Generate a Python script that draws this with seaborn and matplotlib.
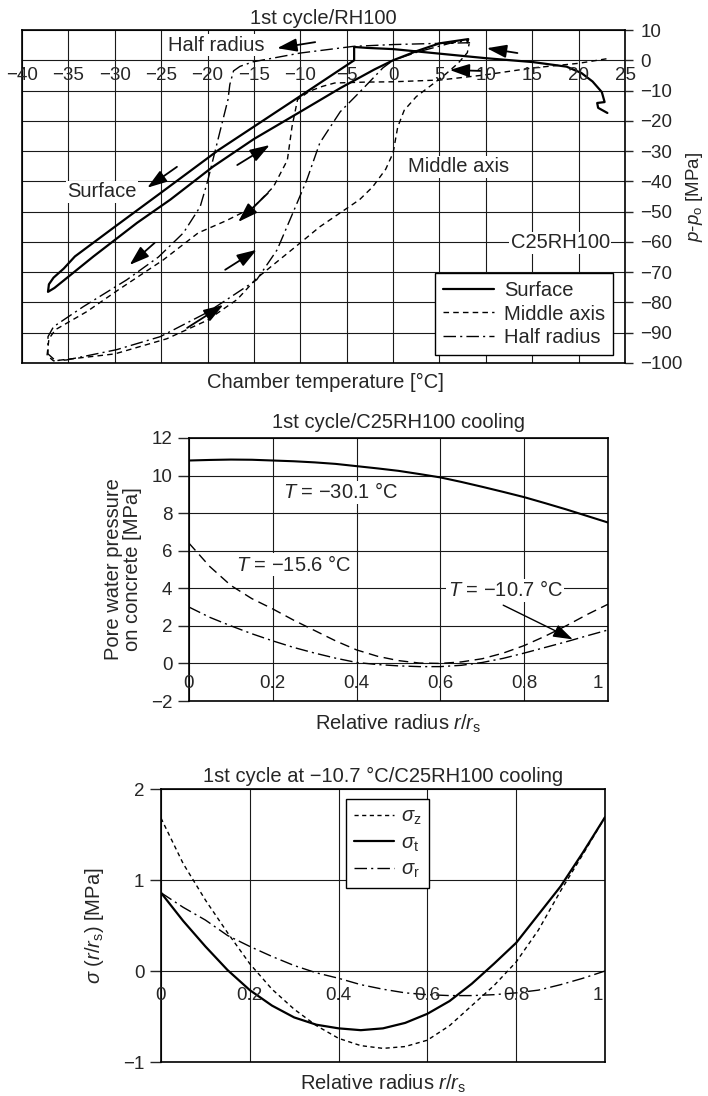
import matplotlib
matplotlib.use("Agg")
import matplotlib.pyplot as plt
import seaborn as sns

# Top panel: pore pressure hysteresis loops (cooling path followed by heating path)
surface_T = [23.1, 22.1, 22.0, 22.8, 22.5, 21.5, 20.3, 18.7, 15.1, 10.0, 5.0, 0.0, -2.8, -4.2, -4.2,
             -10.0, -18.8, -25.0, -30.0, -34.3, -35.5, -36.6, -37.1, -37.2,
             -36.5, -32.3, -27.6, -24.0, -19.4, -15.0, -10.0, -5.7, -2.0, 0.0, 2.5, 5.0, 8.1, 8.0]
surface_p = [-17.4, -15.7, -14.1, -13.8, -10.5, -7.0, -4.2, -2.1, -0.6, 0.7, 2.2, 3.7, 4.1, 4.4, 0.0,
             -11.8, -29.6, -43.7, -55.0, -64.8, -68.8, -71.8, -74.0, -76.5,
             -75.2, -64.8, -53.7, -46.0, -35.1, -26.0, -17.0, -9.2, -3.0, 0.0, 3.0, 5.6, 7.0, 5.9]

middle_T = [23.0, 20.0, 15.1, 9.7, 5.1, 0.0, -3.0, -6.3, -7.6, -9.0, -10.3, -10.9, -11.4, -12.9,
            -15.0, -18.0, -21.0, -24.8, -29.6, -33.0, -36.4, -37.1, -37.3,
            -36.6, -30.0, -24.4, -20.1, -16.8, -14.7, -10.0, -7.9, -3.6, -2.2, -0.8, 0.0, 0.5,
            1.2, 2.5, 4.0, 5.5, 7.0, 8.0, 8.2]
middle_p = [0.5, -1.0, -2.5, -4.9, -6.5, -7.1, -7.2, -7.5, -8.6, -10.2, -13.0, -22.0, -33.0, -41.8,
            -48.4, -53.0, -57.0, -66.0, -75.8, -83.0, -89.0, -92.0, -97.5,
            -99.3, -97.0, -92.0, -86.0, -79.0, -72.0, -60.3, -55.0, -46.0, -41.8, -36.0, -30.6, -22.0,
            -16.5, -12.0, -8.5, -5.0, -1.0, 2.5, 5.5]

half_T = [8.3, 5.0, 0.0, -4.3, -10.0, -15.1, -16.5, -17.2, -17.6, -17.8, -18.7, -20.0, -20.8, -22.6,
          -25.3, -28.7, -33.4, -36.6, -37.2, -37.2,
          -36.4, -35.2, -29.8, -25.1, -20.1, -17.9, -14.7, -12.5, -10.8, -9.3, -7.9, -5.7, -3.6,
          -1.1, 0.0, 2.6, 6.1, 8.1]
half_p = [5.8, 5.6, 5.2, 4.6, 2.4, -0.5, -2.0, -3.5, -8.0, -13.0, -24.0, -40.0, -48.4, -57.0,
          -65.0, -72.5, -81.4, -88.0, -91.3, -97.0,
          -99.2, -99.0, -95.6, -91.3, -83.4, -79.0, -72.5, -62.6, -50.4, -39.5, -27.3, -17.0, -10.5,
          -2.5, 0.0, 2.7, 5.6, 6.7]

temp_ticks = [-40, -35, -30, -25, -20, -15, -10, -5, 0, 5, 10, 15, 20, 25]
press_ticks = [10, 0, -10, -20, -30, -40, -50, -60, -70, -80, -90, -100]

# arrows in the top panel (tail -> head)
arrow_tail_T = [-8.4, 13.4, 9.4, -23.3, -16.8, -13.5, -25.7, -18.1, -22.2]
arrow_tail_p = [6.0, 2.4, -3.5, -35.2, -34.6, -43.9, -60.3, -69.2, -88.4]
arrow_head_T = [-12.5, 10.1, 6.1, -26.5, -13.3, -16.7, -28.4, -14.7, -18.3]
arrow_head_p = [4.0, 4.0, -3.2, -42.1, -28.0, -53.4, -67.6, -62.6, -80.8]

# Middle panel: pore water pressure profiles
radius = [0.0, 0.05, 0.1, 0.15, 0.2, 0.25, 0.3, 0.35, 0.4, 0.45, 0.5,
          0.55, 0.6, 0.65, 0.7, 0.75, 0.8, 0.85, 0.9, 0.95, 1.0]
pw_m30 = [10.8, 10.83, 10.85, 10.84, 10.8, 10.76, 10.7, 10.62, 10.5, 10.38, 10.25,
          10.08, 9.9, 9.66, 9.4, 9.13, 8.85, 8.53, 8.2, 7.85, 7.5]
pw_m15 = [6.4, 5.15, 4.15, 3.45, 2.9, 2.3, 1.75, 1.2, 0.72, 0.38, 0.15,
          0.02, 0.0, 0.08, 0.25, 0.55, 0.95, 1.45, 2.0, 2.6, 3.15]
pw_m10 = [3.0, 2.45, 2.0, 1.58, 1.2, 0.85, 0.55, 0.28, 0.05, -0.06, -0.13,
          -0.17, -0.17, -0.1, 0.05, 0.27, 0.55, 0.85, 1.15, 1.47, 1.78]
radius_ticks = [0, 0.2, 0.4, 0.6, 0.8, 1]
pw_ticks = [-2, 0, 2, 4, 6, 8, 10, 12]

# Bottom panel: stresses at -10.7 C
r_s = [0.0, 0.05, 0.1, 0.15, 0.2, 0.25, 0.3, 0.35, 0.4, 0.45, 0.5, 0.55, 0.6, 0.65, 0.7,
       0.75, 0.8, 0.85, 0.9, 0.95, 1.0]
sig_z = [1.68, 1.18, 0.78, 0.42, 0.08, -0.2, -0.42, -0.6, -0.74, -0.82, -0.85, -0.83, -0.76,
         -0.6, -0.38, -0.16, 0.1, 0.45, 0.88, 1.28, 1.69]
sig_t = [0.86, 0.55, 0.27, 0.01, -0.21, -0.38, -0.51, -0.59, -0.63, -0.65, -0.63, -0.57,
         -0.47, -0.33, -0.14, 0.08, 0.31, 0.62, 0.93, 1.3, 1.69]
sig_r = [0.86, 0.7, 0.56, 0.39, 0.27, 0.16, 0.06, -0.02, -0.08, -0.15, -0.2, -0.24, -0.26,
         -0.27, -0.27, -0.26, -0.24, -0.21, -0.15, -0.08, 0.0]
sig_ticks = [-1, 0, 1, 2]

sns.set_style("ticks")
plt.rcParams['font.family'] = ['Liberation Sans', 'DejaVu Sans']
plt.rcParams['mathtext.fontset'] = 'custom'
plt.rcParams['mathtext.rm'] = 'Liberation Sans'
plt.rcParams['mathtext.it'] = 'Liberation Sans:italic'
plt.rcParams['font.size'] = 13
plt.rcParams['axes.linewidth'] = 1.2
plt.rcParams['axes.edgecolor'] = 'black'

MINUS = '\u2212'
TXT = 14.5   # word labels are set a bit larger / wider than the digits
DASH_TOP = (0, (4, 3))
DASHDOT = (0, (9, 3, 1.5, 3))
white = dict(facecolor='white', edgecolor='none', pad=1.0)


def draw(ax, x, y, ls, lw):
    sns.lineplot(x=x, y=y, ax=ax, sort=False, estimator=None, color='black',
                 linewidth=lw, legend=False)
    line = ax.lines[-1]
    line.set_linestyle(ls)
    return line


def fmt(v):
    s = f"{v:g}"
    return s.replace('-', MINUS)


def grid(ax):
    ax.grid(True, color='#1a1a1a', linewidth=0.8)


fig = plt.figure(figsize=(7.08, 10.96), dpi=100)

# ---------------- top panel ----------------
ax1 = fig.add_axes([0.0311, 0.6688, 0.8517, 0.3038])
h_s = draw(ax1, surface_T, surface_p, '-', 1.6)
h_m = draw(ax1, middle_T, middle_p, DASH_TOP, 1.0)
h_h = draw(ax1, half_T, half_p, DASHDOT, 1.0)
ax1.set_xlim(-40, 25)
ax1.set_ylim(-100, 10)
ax1.set_xticks(temp_ticks)
ax1.set_yticks(press_ticks)
ax1.set_yticklabels([fmt(v) for v in press_ticks])
ax1.tick_params(axis='x', length=0, labelbottom=False)
ax1.yaxis.tick_right()
ax1.yaxis.set_label_position('right')
ax1.tick_params(axis='y', right=True, left=False, length=6, width=1.0, pad=5, labelsize=13.5)
grid(ax1)
for t in temp_ticks:
    ax1.text(t, -5, fmt(t), ha='center', va='center', fontsize=13.5, clip_on=False)
ax1.set_title('1st cycle/RH100', fontsize=TXT, pad=4)
ax1.set_xlabel('Chamber temperature [°C]', fontsize=TXT)
ax1.xaxis.set_label_coords(0.504, -0.03)
ax1.set_ylabel(r'$p$-$p_{\mathrm{o}}$ [MPa]', fontsize=13.5, labelpad=1)
ax1.text(-19.1, 5.0, 'Half radius', ha='center', va='center', fontsize=TXT, bbox=white, zorder=4)
ax1.text(-31.4, -43.5, 'Surface', ha='center', va='center', fontsize=TXT, bbox=white, zorder=4)
ax1.text(7.1, -35.2, 'Middle axis', ha='center', va='center', fontsize=TXT, bbox=white, zorder=4)
ax1.text(18.0, -60.3, 'C25RH100', ha='center', va='center', fontsize=TXT, bbox=white, zorder=4)
for tx, ty, hx, hy in zip(arrow_tail_T, arrow_tail_p, arrow_head_T, arrow_head_p):
    ax1.annotate('', xy=(hx, hy), xytext=(tx, ty),
                 arrowprops=dict(arrowstyle='-|>,head_length=0.75,head_width=0.25',
                                 color='black', lw=1.3, shrinkA=0, shrinkB=0,
                                 mutation_scale=16), zorder=5)
leg1 = ax1.legend([h_s, h_m, h_h], ['Surface', 'Middle axis', 'Half radius'],
                  loc='lower right', bbox_to_anchor=(0.98, 0.024), borderaxespad=0,
                  fontsize=TXT, handlelength=2.5, labelspacing=0.22, handletextpad=0.5,
                  borderpad=0.4, fancybox=False, framealpha=1, edgecolor='black')
leg1.get_frame().set_linewidth(1.0)

# ---------------- middle panel ----------------
ax2 = fig.add_axes([0.2669, 0.3604, 0.5918, 0.24])
draw(ax2, radius, pw_m30, '-', 1.5)
draw(ax2, radius, pw_m15, (0, (7, 4)), 1.0)
draw(ax2, radius, pw_m10, DASHDOT, 1.0)
ax2.set_xlim(0, 1)
ax2.set_ylim(-2, 12)
ax2.set_xticks(radius_ticks)
ax2.set_yticks(pw_ticks)
ax2.set_yticklabels([fmt(v) for v in pw_ticks])
ax2.tick_params(axis='x', length=0, labelbottom=False)
ax2.tick_params(axis='y', length=8, width=1.0, pad=4, labelsize=13.5)
grid(ax2)
for t in radius_ticks:
    xpos = 0.975 if t == 1 else t
    ax2.text(xpos, -1.05, fmt(t), ha='center', va='center', fontsize=13.5)
ax2.set_title('1st cycle/C25RH100 cooling', fontsize=TXT, pad=7)
ax2.set_xlabel(r'Relative radius $r$/$r_{\mathrm{s}}$', fontsize=TXT)
ax2.xaxis.set_label_coords(0.5, -0.045)
ax2.set_ylabel('Pore water pressure\non concrete [MPa]', fontsize=TXT, labelpad=6,
               linespacing=1.0)
ax2.text(0.363, 9.1, r'$T$ = ' + MINUS + '30.1 °C', ha='center', va='center',
         fontsize=TXT, bbox=white, zorder=4)
ax2.text(0.25, 5.25, r'$T$ = ' + MINUS + '15.6 °C', ha='center', va='center',
         fontsize=TXT, bbox=white, zorder=4)
ax2.text(0.755, 3.9, r'$T$ = ' + MINUS + '10.7 °C', ha='center', va='center',
         fontsize=TXT, bbox=white, zorder=4)
ax2.annotate('', xy=(0.916, 1.28), xytext=(0.75, 3.1),
             arrowprops=dict(arrowstyle='-|>,head_length=0.75,head_width=0.25',
                             color='black', lw=1.0, shrinkA=0, shrinkB=0,
                             mutation_scale=16), zorder=5)

# ---------------- bottom panel ----------------
ax3 = fig.add_axes([0.2274, 0.031, 0.6271, 0.2491])
l_z = draw(ax3, r_s, sig_z, (0, (3, 2.5)), 1.0)
l_t = draw(ax3, r_s, sig_t, '-', 1.6)
l_r = draw(ax3, r_s, sig_r, DASHDOT, 1.0)
ax3.set_xlim(0, 1)
ax3.set_ylim(-1, 2)
ax3.set_xticks(radius_ticks)
ax3.set_yticks(sig_ticks)
ax3.set_yticklabels([fmt(v) for v in sig_ticks])
ax3.tick_params(axis='x', length=0, labelbottom=False)
ax3.tick_params(axis='y', length=8, width=1.0, pad=4, labelsize=13.5)
grid(ax3)
for t in radius_ticks:
    xpos = 0.984 if t == 1 else t
    ax3.text(xpos, -0.27, fmt(t), ha='center', va='center', fontsize=13.5)
ax3.set_title('1st cycle at ' + MINUS + '10.7 °C/C25RH100 cooling', fontsize=TXT, pad=5)
ax3.set_xlabel(r'Relative radius $r$/$r_{\mathrm{s}}$', fontsize=TXT)
ax3.xaxis.set_label_coords(0.5, -0.04)
ax3.set_ylabel(r'$\sigma$ ($r$/$r_{\mathrm{s}}$) [MPa]', fontsize=TXT, labelpad=12)
leg3 = ax3.legend([l_z, l_t, l_r],
                  [r'$\sigma_{\mathrm{z}}$', r'$\sigma_{\mathrm{t}}$', r'$\sigma_{\mathrm{r}}$'],
                  loc='upper left', bbox_to_anchor=(0.417, 0.963), borderaxespad=0,
                  fontsize=TXT, handlelength=2.0, labelspacing=0.3, handletextpad=0.3,
                  borderpad=0.4, fancybox=False, framealpha=1, edgecolor='black')
leg3.get_frame().set_linewidth(1.0)

fig.savefig('out.png', dpi=100)
